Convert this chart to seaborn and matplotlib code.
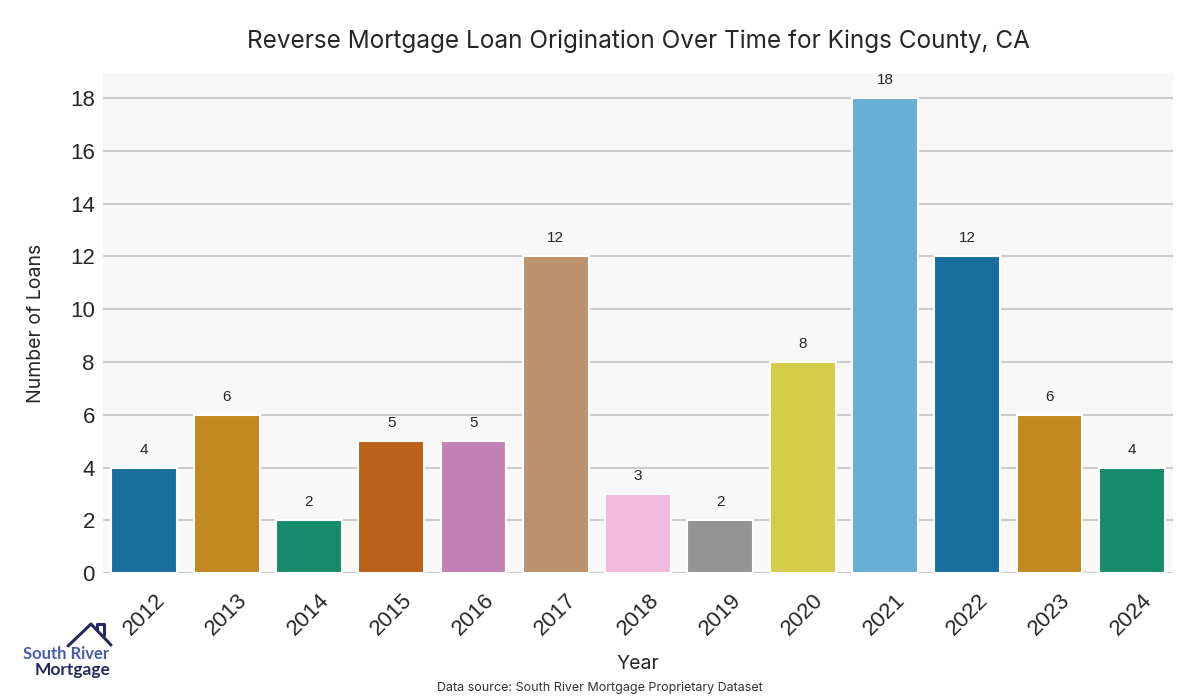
import pandas as pd
import numpy as np
import matplotlib.pyplot as plt
import seaborn as sns
from matplotlib.lines import Line2D

# Data
years = ["2012", "2013", "2014", "2015", "2016", "2017", "2018",
         "2019", "2020", "2021", "2022", "2023", "2024"]
loans = [4, 6, 2, 5, 5, 12, 3, 2, 8, 18, 12, 6, 4]

df = pd.DataFrame({"year": years, "loans": loans})

sns.set_style("whitegrid", {"axes.facecolor": "#f8f8f8", "grid.color": "#cccccc",
                            "axes.edgecolor": "#f8f8f8"})
plt.rcParams["font.family"] = ["Liberation Sans", "DejaVu Sans"]

fig = plt.figure(figsize=(12, 7), dpi=100)
ax = fig.add_axes([0.086, 0.181, 0.8915, 0.715])

sns.barplot(data=df, x="year", y="loans", hue="year", legend=False,
            palette=sns.color_palette("colorblind", len(years)),
            edgecolor="white", linewidth=1.5, ax=ax)

for c in ax.containers:
    ax.bar_label(c, padding=8, fontsize=11, color="#262626")

ax.set_ylim(0, 18.95)
ax.set_yticks(range(0, 19, 2))
ax.grid(axis="y", color="#cccccc", linewidth=1.5)
ax.grid(axis="x", visible=False)
for s in ax.spines.values():
    s.set_visible(False)
ax.tick_params(axis="y", labelsize=16, colors="#262626", length=0, pad=6)
ax.tick_params(axis="x", labelsize=16, colors="#262626", length=0, pad=12)
plt.setp(ax.get_xticklabels(), rotation=45, ha="center")

ax.set_xlabel("Year", fontsize=14, family="Inter", color="#262626", labelpad=11)
ax.set_ylabel("Number of Loans", fontsize=14, family="Inter", color="#262626", labelpad=18)
ax.set_title("Reverse Mortgage Loan Origination Over Time for Kings County, CA",
             fontsize=17.5, family="Inter", color="#262626", pad=18)

fig.text(0.5, 0.017, "Data source: South River Mortgage Proprietary Dataset",
         ha="center", va="center", fontsize=9, family="Inter", color="#333333")

# logo
navy = "#262a5e"
fig.add_artist(Line2D(np.array([68, 91, 111]) / 1200, 1 - np.array([646, 624, 645]) / 700,
                      color=navy, linewidth=2.2))
fig.add_artist(Line2D(np.array([97, 97, 104, 104]) / 1200, 1 - np.array([630, 624, 624, 635]) / 700,
                      color=navy, linewidth=2.2))
fig.text(66 / 1200, 1 - 654 / 700, "South River", ha="center", va="center",
         fontsize=12, fontweight="bold", family="Lato", color="#4a5cb0")
fig.text(73 / 1200, 1 - 670 / 700, "Mortgage", ha="center", va="center",
         fontsize=12.5, fontweight="bold", family="Lato", color=navy)

fig.savefig("out.png", dpi=100)
